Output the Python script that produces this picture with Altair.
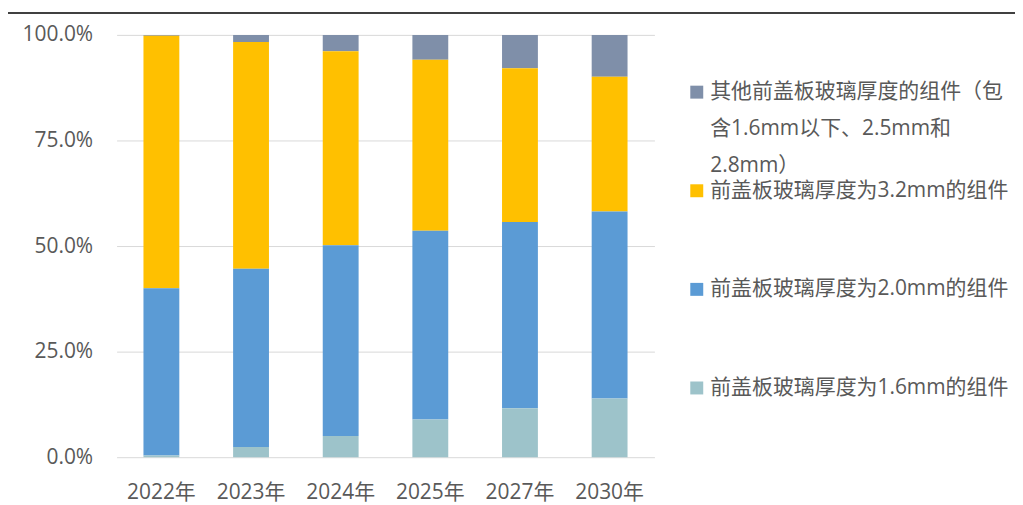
import altair as alt
import pandas as pd

years = ["2022年", "2023年", "2024年", "2025年", "2027年", "2030年"]
series = [
    "其他前盖板玻璃厚度的组件（包\n含1.6mm以下、2.5mm和\n2.8mm）",
    "前盖板玻璃厚度为3.2mm的组件",
    "前盖板玻璃厚度为2.0mm的组件",
    "前盖板玻璃厚度为1.6mm的组件",
]
colors = ["#7F8FA9", "#FFC000", "#5B9BD5", "#9DC3CA"]
stack_rank = [3, 2, 1, 0]

v_other = [0.2, 1.7, 3.9, 5.9, 7.9, 9.9]
v_32 = [59.8, 53.7, 45.9, 40.5, 36.4, 31.9]
v_20 = [39.6, 42.2, 45.2, 44.7, 44.1, 44.3]
v_16 = [0.4, 2.4, 5.0, 8.9, 11.6, 13.9]
values_by_series = [v_other, v_32, v_20, v_16]
y_ticks = [0, 0.25, 0.5, 0.75, 1]

rows = []
for s, r, vals in zip(series, stack_rank, values_by_series):
    for y, v in zip(years, vals):
        rows.append({"year": y, "series": s, "rank": r, "value": v})
df = pd.DataFrame(rows)

FONT = "Open Sans, Noto Sans CJK SC, sans-serif"
TXT = "#595959"

bars = alt.Chart(df).mark_bar().encode(
    x=alt.X(
        "year:N",
        sort=years,
        scale=alt.Scale(paddingInner=0.6, paddingOuter=0.3),
        axis=alt.Axis(
            title=None, labelAngle=0, domain=False, ticks=False, grid=False,
            labelFontSize=21, labelColor=TXT, labelFont=FONT, labelPadding=24,
        ),
    ),
    y=alt.Y(
        "value:Q",
        stack="normalize",
        scale=alt.Scale(domain=[0, 1]),
        axis=alt.Axis(
            title=None, values=y_ticks,
            labelExpr="format(datum.value, '.1%')",
            domain=False, ticks=False, grid=True, gridColor="#D9D9D9",
            gridWidth=1, labelFontSize=21, labelColor=TXT, labelFont=FONT,
            labelPadding=24,
        ),
    ),
    color=alt.Color(
        "series:N",
        scale=alt.Scale(domain=series, range=colors),
        legend=alt.Legend(
            title=None, orient="none", legendX=572, legendY=47,
            symbolType="square", symbolSize=169, symbolStrokeWidth=0,
            labelFontSize=21, labelColor=TXT, labelFont=FONT, labelLimit=500,
            labelOffset=3, gridAlign="all", rowPadding=3, padding=0,
            labelExpr="split(datum.label, '\\n')",
        ),
    ),
    order=alt.Order("rank:Q", sort="ascending"),
)

top_line = alt.Chart(pd.DataFrame({"a": [0]})).mark_rule(
    color="black", strokeWidth=1.5, clip=False
).encode(x=alt.value(-109), x2=alt.value(910), y=alt.value(-22))

chart = alt.layer(bars, top_line).properties(
    width=540,
    height=424,
    autosize=alt.AutoSizeParams(type="none"),
    padding={"left": 109, "top": 26, "right": 362, "bottom": 46},
).configure(
    view=alt.ViewConfig(strokeWidth=0),
    style={"guide-label": {"lineHeight": 37}},
)

chart.save("out.html", embed_options={"renderer": "svg", "actions": False})
